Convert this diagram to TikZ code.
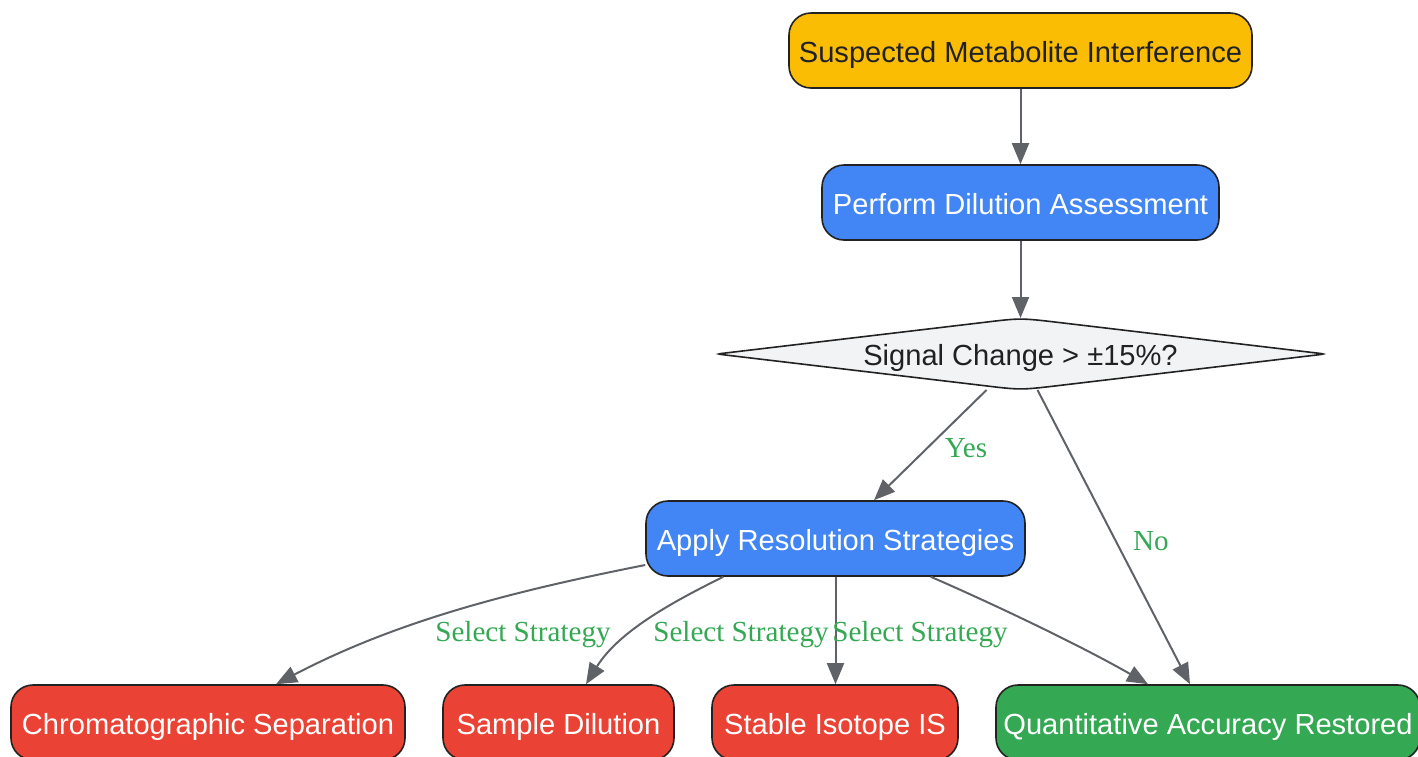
\documentclass[tikz,border=0pt]{standalone}
\usepackage{fontspec}
\setmainfont{Liberation Serif}
\newfontfamily\nodefont{Liberation Sans}
\usetikzlibrary{arrows.meta,calc}
\definecolor{cYel}{HTML}{FBBC04}
\definecolor{cBlu}{HTML}{4285F4}
\definecolor{cRed}{HTML}{EA4335}
\definecolor{cGrn}{HTML}{34A853}
\definecolor{cDia}{HTML}{F1F3F4}
\definecolor{cBrd}{HTML}{222222}
\definecolor{cTxt}{HTML}{202124}
\definecolor{cEdg}{HTML}{5F6368}
\definecolor{cLab}{HTML}{34A853}
\begin{document}
\begin{tikzpicture}[x=1pt,y=-1pt,
  box/.style={draw=cBrd, line width=1.6pt, rounded corners=22pt, inner sep=0pt,
    text height=30pt, text depth=6.2pt,
    minimum height=75pt, font=\nodefont\fontsize{29.1}{34}\selectfont, text=white},
  edge/.style={draw=cEdg, line width=2pt, -{Triangle[length=21pt,width=17pt]}},
  lab/.style={text=cLab, font=\fontsize{29.1}{34}\selectfont, inner sep=0pt}]
\useasboundingbox (0,0) rectangle (1418,756);

% nodes
\node[box, fill=cYel, text=cTxt, minimum width=463pt] (sus) at (1020.5,50.5) {Suspected Metabolite Interference};
\node[box, fill=cBlu, minimum width=397pt] (per) at (1020.5,202.5) {Perform Dilution Assessment};

\draw[fill=cDia, draw=cBrd, line width=1.6pt]
  (724.9,353.06) -- (984.2,322.35) .. controls (1020.5,318) .. (1057.8,322.35)
  -- (1317.1,353.06) .. controls (1325,354) .. (1317.1,354.94)
  -- (1057.8,385.65) .. controls (1020.5,390) .. (984.2,385.65)
  -- (724.9,354.94) .. controls (717,354) .. (724.9,353.06) -- cycle;
\node[inner sep=0pt, text=cTxt, text height=30pt, text depth=6.2pt, font=\nodefont\fontsize{29.1}{34}\selectfont] (dec) at (1020.5,354) {Signal Change > ±15\%?};

\node[box, fill=cBlu, minimum width=379pt] (app) at (835.5,538.5) {Apply Resolution Strategies};
\node[box, fill=cRed, minimum width=394pt] (chr) at (208,722.5) {Chromatographic Separation};
\node[box, fill=cRed, minimum width=231pt] (sam) at (558.5,722.5) {Sample Dilution};
\node[box, fill=cRed, minimum width=246pt] (sta) at (835,722.5) {Stable Isotope IS};
\node[box, fill=cGrn, minimum width=424pt] (qua) at (1208,722.5) {Quantitative Accuracy Restored};

% edges
\draw[edge] (sus.south) -- (per.north);
\draw[edge] (per.south) -- ($(dec.center)+(0,-36)$);
\draw[edge] ($(dec.center)+(-34,36)$) -- ($(app.north)+(38.5,0)$);
\draw[edge] ($(dec.center)+(17,36)$) -- ($(qua.north)+(-18,0)$);
\draw[edge] ($(app.west)+(0,26.5)$) .. controls +(-126,25) and +(124,-65) .. ($(chr.north)+(68,0)$);
\draw[edge] ($(app.south west)+(78,0)$) .. controls +(-44,22) and +(34,-55) .. ($(sam.north)+(27.5,0)$);
\draw[edge] (app.south) -- (app.south |- sta.north);
\draw[edge] ($(app.south east)+(-95,0)$) .. controls +(60,26) and +(-68,-39) .. ($(qua.north)+(-60,0)$);

% labels
\node[lab] (lyes) at (966,448) {Yes};
\node[lab] (lno) at (1151,541) {No};
\node[lab] (l1) at (523,635) {Select Strategy};
\node[lab] (l2) at (741,635) {Select Strategy};
\node[lab] (l3) at (920,635) {Select Strategy};
\end{tikzpicture}
\end{document}
